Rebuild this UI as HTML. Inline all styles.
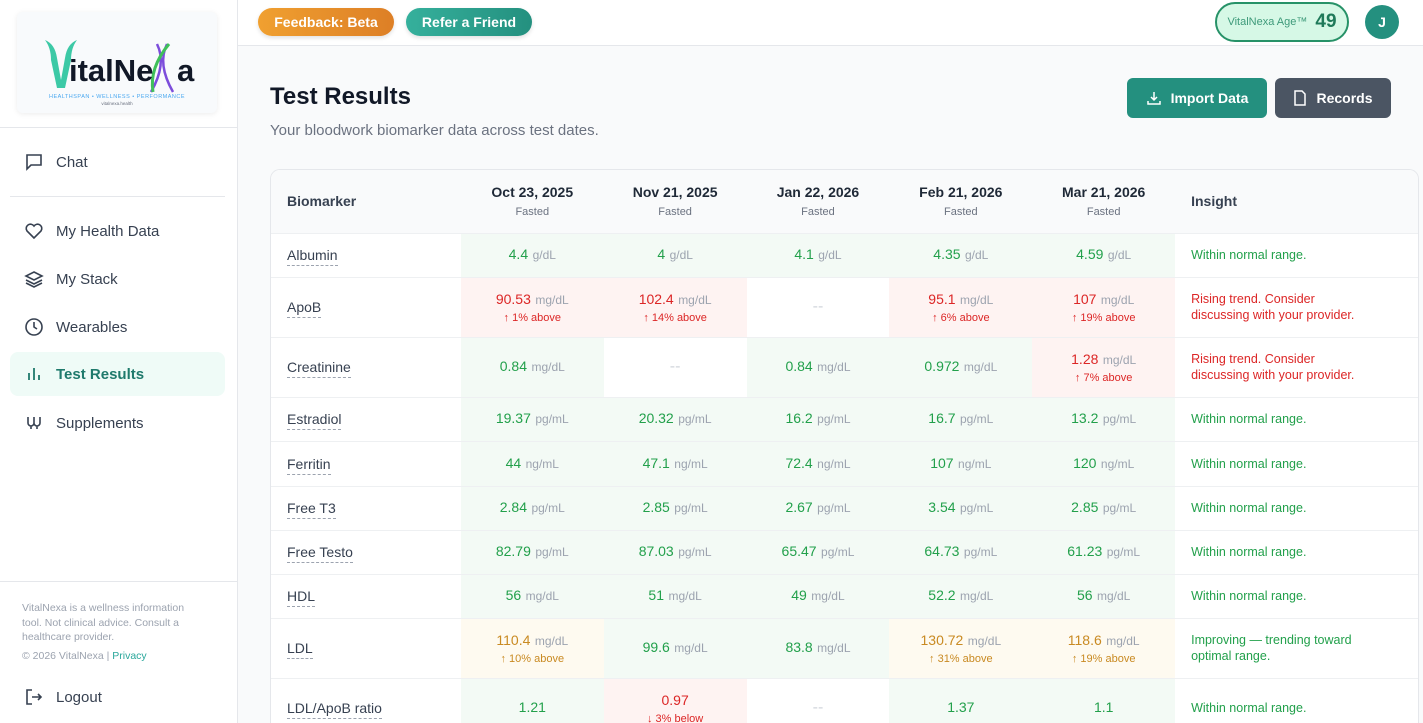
<!DOCTYPE html>
<html style="width:1423px;height:723px;overflow:hidden"><head><meta charset="utf-8">
<style>
*{box-sizing:border-box;margin:0;padding:0}
body{width:1423px;height:723px;overflow:hidden;font-family:"Liberation Sans",sans-serif;background:#f9fafb;position:relative;color:#1f2937}
#side{position:absolute;left:0;top:0;width:238px;height:723px;background:#fff;border-right:1px solid #e5e7eb}
.logo{position:absolute;left:17px;top:12px;width:200px;height:101px;background:#f8fafc;border-radius:6px;box-shadow:0 1px 6px rgba(0,0,0,.08)}
.hr{position:absolute;left:10px;width:215px;height:1px;background:#e5e7eb}
.nav{position:absolute;left:10px;width:215px;height:44px;display:flex;align-items:center;padding-left:14px;font-size:15px;color:#374151;border-radius:8px}
.nav svg{margin-right:12px}
.nav.active{background:#effbf7;color:#1f7a6c;font-weight:bold}
#top{position:absolute;left:238px;top:0;right:0;height:46px;background:#fff;border-bottom:1px solid #e5e7eb}
.pill{position:absolute;top:8px;height:28px;border-radius:14px;color:#fff;font-weight:bold;font-size:14px;display:flex;align-items:center;justify-content:center;box-shadow:0 2px 4px rgba(0,0,0,.12)}
table{border-collapse:collapse;table-layout:fixed}
td,th{border-bottom:1px solid #eef0f2;text-align:center;vertical-align:middle}
.v{font-size:14px}.u{font-size:12px;color:#9ca3af}.s{font-size:11px;display:block;margin-top:3px}
.g{background:#f3faf5}.r{background:#fef3f2}.o{background:#fefaf0}.w{background:#fff}
.gc{color:#22a04b}.rc{color:#dc2626}.oc{color:#c98a22}
.name{text-align:left;padding-left:16px;font-size:14px;color:#374151}
.name span{border-bottom:1px dashed #9ca3af;padding-bottom:2px}
.ins{text-align:left;padding-left:16px;font-size:12.5px;line-height:16px;padding-right:48px}
</style></head><body>
<div id="side">
 <div class="logo">
  <svg width="200" height="101" style="position:absolute;left:0;top:0">
   <path d="M28 28 q6 8 6 20 l6 28 h8 l6-28 q0-12 6-20 q-10 4-12 18 l-4 22 l-4-22 q-2-14-12-18z" fill="#3cc9a6"/>
   <path d="M140 32 q10 20 -6 48 M150 32 q-10 20 6 48" stroke="#7c4ddb" stroke-width="2.5" fill="none"/>
   <path d="M152 32 q-20 24 -16 48" stroke="#3fc05a" stroke-width="3" fill="none"/>
   <text x="52" y="69" font-family="Liberation Sans" font-weight="bold" font-size="31" fill="#111827">italNe</text>
   <text x="160" y="69" font-family="Liberation Sans" font-weight="bold" font-size="31" fill="#111827">a</text>
   <text x="100" y="86" text-anchor="middle" font-family="Liberation Sans" font-size="5.5" fill="#4aa8f0" letter-spacing=".5">HEALTHSPAN • WELLNESS • PERFORMANCE</text>
   <text x="100" y="93" text-anchor="middle" font-family="Liberation Sans" font-size="4.5" fill="#6b7280">vitalnexa.health</text>
  </svg>
 </div>
 <div class="hr" style="top:127px;left:0;width:237px"></div>
 <div class="nav" style="top:140px"><svg width="20" height="20" viewBox="0 0 20 20" fill="none" stroke="#374151" stroke-width="1.6"><path d="M3 3h14v10H7l-4 4z"/></svg>Chat</div>
 <div class="hr" style="top:196px"></div>
 <div class="nav" style="top:209px"><svg width="20" height="20" viewBox="0 0 20 20" fill="none" stroke="#374151" stroke-width="1.6"><path d="M10 17 L3 10 a4 4 0 0 1 7-5 a4 4 0 0 1 7 5z"/></svg>My Health Data</div>
 <div class="nav" style="top:257px"><svg width="20" height="20" viewBox="0 0 20 20" fill="none" stroke="#374151" stroke-width="1.6"><path d="M10 3l8 4-8 4-8-4z M2 11l8 4 8-4 M2 14l8 4 8-4"/></svg>My Stack</div>
 <div class="nav" style="top:305px"><svg width="20" height="20" viewBox="0 0 20 20" fill="none" stroke="#374151" stroke-width="1.6"><circle cx="10" cy="10" r="8"/><path d="M10 5v5l3 2"/></svg>Wearables</div>
 <div class="nav active" style="top:352px"><svg width="20" height="20" viewBox="0 0 20 20" fill="none" stroke="#1f7a6c" stroke-width="1.8"><path d="M5 16V9 M10 16V4 M15 16v-5"/></svg>Test Results</div>
 <div class="nav" style="top:401px"><svg width="20" height="20" viewBox="0 0 20 20" fill="none" stroke="#374151" stroke-width="1.6"><path d="M4 4v6a3 3 0 0 0 6 0V4 M10 10a3 3 0 0 0 6 0V4 M7 16v-3 M13 16v-3"/></svg>Supplements</div>
 <div class="hr" style="top:581px;left:0;width:237px"></div>
 <div style="position:absolute;left:22px;top:601px;width:178px;font-size:10.5px;line-height:14.5px;color:#9ca3af">VitalNexa is a wellness information tool. Not clinical advice. Consult a healthcare provider.<div style="margin-top:4px">© 2026 VitalNexa | <span style="color:#2aa79b">Privacy</span></div></div>
 <div class="nav" style="top:675px"><svg width="20" height="20" viewBox="0 0 20 20" fill="none" stroke="#374151" stroke-width="1.6"><path d="M8 3H3v14h5 M8 10h9 M14 7l3 3-3 3"/></svg>Logout</div>
</div>
<div id="top">
 <div class="pill" style="left:20px;width:136px;background:linear-gradient(90deg,#f0a030,#dd7f26)">Feedback: Beta</div>
 <div class="pill" style="left:168px;width:126px;background:linear-gradient(90deg,#35b09c,#24907f)">Refer a Friend</div>
 <div style="position:absolute;left:977px;top:2px;width:134px;height:40px;border:2px solid #279268;border-radius:20px;background:#d6f8e6;display:flex;align-items:center;justify-content:center;gap:8px"><span style="font-size:11px;color:#3e9a7a">VitalNexa Age™</span><span style="font-size:19px;font-weight:bold;color:#1f7a5a">49</span></div>
 <div style="position:absolute;left:1127px;top:5px;width:34px;height:34px;border-radius:50%;background:#24907f;color:#fff;font-weight:bold;font-size:14px;display:flex;align-items:center;justify-content:center">J</div>
</div>
<div style="position:absolute;left:270px;top:83px;font-size:24px;font-weight:bold;color:#111827">Test Results</div>
<div style="position:absolute;left:270px;top:122px;font-size:15px;color:#6b7280">Your bloodwork biomarker data across test dates.</div>
<div style="position:absolute;left:1127px;top:78px;width:140px;height:40px;border-radius:6px;background:#24907f;color:#fff;font-weight:bold;font-size:14px;display:flex;align-items:center;justify-content:center;gap:9px"><svg width="16" height="16" viewBox="0 0 16 16" fill="none" stroke="#fff" stroke-width="1.5"><path d="M8 2v8 M5 7l3 3 3-3 M2 11v3h12v-3"/></svg>Import Data</div>
<div style="position:absolute;left:1275px;top:78px;width:116px;height:40px;border-radius:6px;background:#4b5563;color:#fff;font-weight:bold;font-size:14px;display:flex;align-items:center;justify-content:center;gap:9px"><svg width="14" height="16" viewBox="0 0 14 16" fill="none" stroke="#fff" stroke-width="1.5"><path d="M2 1h7l3 3v11H2z"/></svg>Records</div>
<div style="position:absolute;left:270px;top:169px;width:1149px;height:554px;border:1px solid #e5e7eb;border-bottom:none;border-radius:10px 10px 0 0;background:#fff;overflow:hidden">
<table id="tbl">
<colgroup><col style="width:190px"><col style="width:143px"><col style="width:143px"><col style="width:143px"><col style="width:143px"><col style="width:143px"><col style="width:243px"></colgroup>
<thead><tr id="hd" style="height:63px;background:#f9fafb"></tr></thead>
<tbody id="tb"></tbody>
</table>
</div>
<script>
const dates=["Oct 23, 2025","Nov 21, 2025","Jan 22, 2026","Feb 21, 2026","Mar 21, 2026"];
const names=["Albumin","ApoB","Creatinine","Estradiol","Ferritin","Free T3","Free Testo","HDL","LDL","LDL/ApoB ratio"];
const units=["g/dL","mg/dL","mg/dL","pg/mL","ng/mL","pg/mL","pg/mL","mg/dL","mg/dL",""];
const values=[["4.4","4","4.1","4.35","4.59"],["90.53","102.4",null,"95.1","107"],["0.84",null,"0.84","0.972","1.28"],["19.37","20.32","16.2","16.7","13.2"],["44","47.1","72.4","107","120"],["2.84","2.85","2.67","3.54","2.85"],["82.79","87.03","65.47","64.73","61.23"],["56","51","49","52.2","56"],["110.4","99.6","83.8","130.72","118.6"],["1.21","0.97",null,"1.37","1.1"]];
const status=[["g","g","g","g","g"],["r","r","w","r","r"],["g","w","g","g","r"],["g","g","g","g","g"],["g","g","g","g","g"],["g","g","g","g","g"],["g","g","g","g","g"],["g","g","g","g","g"],["o","g","g","o","o"],["g","r","w","g","g"]];
const notes=[[],["↑ 1% above","↑ 14% above","","↑ 6% above","↑ 19% above"],["","","","","↑ 7% above"],[],[],[],[],[],["↑ 10% above","","","↑ 31% above","↑ 19% above"],["","↓ 3% below","","",""]];
const insights=["Within normal range.","Rising trend. Consider discussing with your provider.","Rising trend. Consider discussing with your provider.","Within normal range.","Within normal range.","Within normal range.","Within normal range.","Within normal range.","Improving — trending toward optimal range.","Within normal range."];
const insClr=["gc","rc","rc","gc","gc","gc","gc","gc","gc","gc"];
const rowH=[44,60,60,44,45,44,44,44,60,60];
const hd=document.getElementById('hd');
let h='<th class="name" style="font-weight:bold;color:#374151">Biomarker</th>';
dates.forEach(d=>{h+='<th><div style="font-size:14px;font-weight:bold;color:#1f2937">'+d+'</div><div style="font-size:11px;color:#6b7280;font-weight:normal;margin-top:6px">Fasted</div></th>';});
h+='<th class="name" style="font-weight:bold;color:#374151">Insight</th>';
hd.innerHTML=h;
const tb=document.getElementById('tb');
names.forEach((n,i)=>{
 const tr=document.createElement('tr');
 
 
 tr.style.height=rowH[i]+'px';
 let s='<td class="name"><span>'+n+'</span></td>';
 values[i].forEach((v,j)=>{
  const st=status[i][j];
  if(v===null){s+='<td class="w"><span style="color:#d1d5db">--</span></td>';return;}
  const c=st==='r'?'rc':st==='o'?'oc':'gc';
  const nt=(notes[i]&&notes[i][j])?'<span class="s '+c+'">'+notes[i][j]+'</span>':'';
  s+='<td class="'+st+'"><span class="v '+c+'">'+v+'</span>'+(units[i]?' <span class="u">'+units[i]+'</span>':'')+nt+'</td>';
 });
 s+='<td class="ins '+insClr[i]+'">'+insights[i]+'</td>';
 tr.innerHTML=s;
 tb.appendChild(tr);
});
</script>
</body></html>
